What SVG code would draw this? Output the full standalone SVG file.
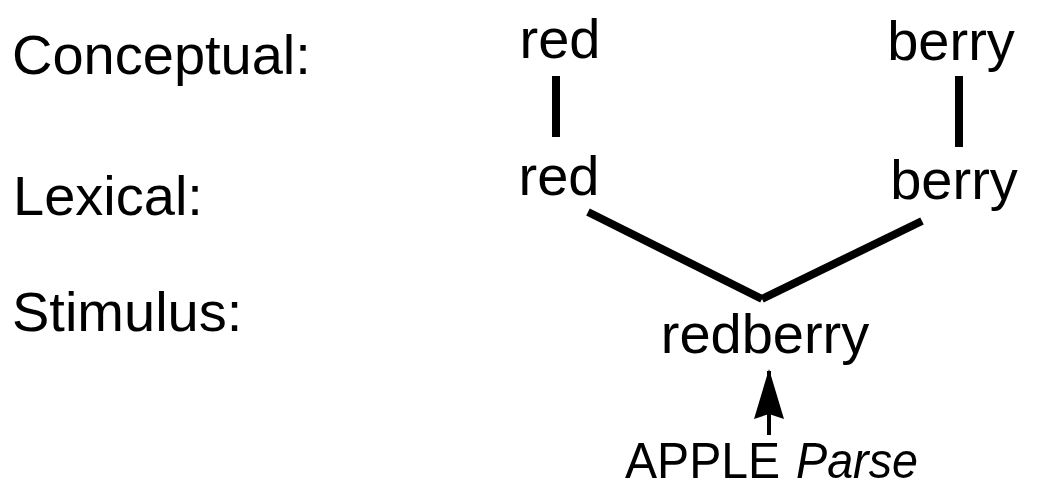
<svg xmlns="http://www.w3.org/2000/svg" width="1043" height="489" viewBox="0 0 1043 489">
<style>
text{font-family:"Liberation Sans",Arial,sans-serif;font-size:56px;fill:#000}
.w{text-anchor:middle}
.p{font-size:50px}
.c line{stroke:#000;stroke-width:8;stroke-linecap:butt}
</style>
<defs>
<marker id="ah" markerWidth="50" markerHeight="30" refX="48" refY="15" markerUnits="userSpaceOnUse" orient="auto" viewBox="0 0 50 30" overflow="visible">
<path d="M0,0 L50,15 L0,30 L5,15 Z" fill="#000"/>
</marker>
</defs>
<rect width="1043" height="489" fill="#fff"/>
<g id="labels">
<text x="12" y="74">Conceptual:</text>
<text x="13" y="215">Lexical:</text>
<text x="12" y="331">Stimulus:</text>
</g>
<g id="concept-red"><text class="w" x="560" y="58">red</text></g>
<g id="concept-berry"><text class="w" x="951" y="60">berry</text></g>
<g id="lex-red"><text class="w" x="559" y="195">red</text></g>
<g id="lex-berry"><text class="w" x="954" y="199">berry</text></g>
<g id="stimulus"><text class="w" x="765" y="353">redberry</text></g>
<g id="parse">
<text class="p" x="625" y="478" textLength="155" lengthAdjust="spacingAndGlyphs">APPLE</text>
<text class="p" x="796" y="478" font-style="italic" textLength="122" lengthAdjust="spacingAndGlyphs">Parse</text>
</g>
<g id="connectors" class="c">
<line x1="556" y1="76" x2="556" y2="137"/>
<line x1="959" y1="76" x2="959" y2="147"/>
<line x1="588" y1="212" x2="762" y2="299"/>
<line x1="762" y1="299" x2="922" y2="221"/>
<line x1="769" y1="435" x2="769" y2="371" style="stroke-width:4" marker-end="url(#ah)"/>
</g>
</svg>
